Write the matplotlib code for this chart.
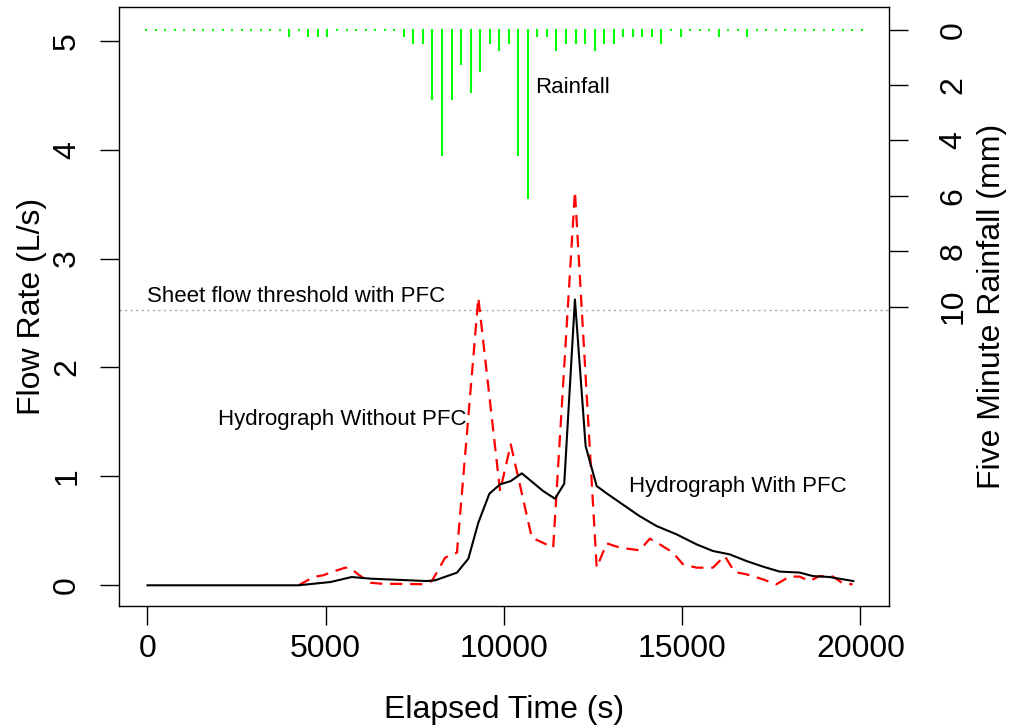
import matplotlib
matplotlib.use("Agg")
import matplotlib.pyplot as plt
import numpy as np

plt.rcParams['font.family'] = ['Liberation Sans', 'DejaVu Sans']

# hydrograph with PFC (black, solid)
t_pfc = [0, 4230, 5130, 5730, 6250, 7830, 8070, 8680, 9000, 9280, 9590, 9890,
         10190, 10500, 11100, 11430, 11690, 11990, 12290, 12600, 12920, 13530,
         13800, 14280, 14840, 15400, 15860, 16330, 16800, 17260, 17730, 18290,
         18660, 19130, 19800]
q_pfc = [0, 0, 0.03, 0.076, 0.061, 0.039, 0.046, 0.116, 0.244, 0.575, 0.841, 0.927,
         0.957, 1.028, 0.865, 0.795, 0.933, 2.624, 1.278, 0.911, 0.835, 0.697,
         0.636, 0.544, 0.468, 0.376, 0.315, 0.284, 0.223, 0.172, 0.126, 0.117,
         0.085, 0.076, 0.039]

# hydrograph without PFC (red, dashed)
t_nopfc = [4240, 4650, 4930, 5210, 5550, 5690, 5910, 6250, 6530, 7730, 7980, 8350,
           8680, 9280, 9890, 10190, 10780, 11380, 11990, 12600, 12880, 13250, 13810,
           14090, 14370, 14740, 15020, 15400, 15860, 16190, 16470, 16800, 17260,
           17640, 18010, 18290, 18570, 18850, 19230, 19500, 19780]
q_nopfc = [0, 0.076, 0.092, 0.126, 0.162, 0.159, 0.10, 0.024, 0.015, 0.01, 0.04, 0.254,
           0.30, 2.64, 0.865, 1.294, 0.438, 0.346, 3.617, 0.162, 0.385, 0.346, 0.321,
           0.428, 0.376, 0.30, 0.193, 0.162, 0.162, 0.269, 0.122, 0.101, 0.055,
           0.009, 0.080, 0.080, 0.039, 0.085, 0.080, 0.018, 0.009]

# five minute rainfall in mm (tipping bucket, 0.254 mm per tip)
rain_mm = [0, 0, 0, 0, 0, 0, 0, 0, 0, 0, 0, 0, 0, 0, 0,
           0.254, 0, 0.254, 0.254, 0.254, 0, 0, 0, 0, 0, 0, 0,
           0.254, 0.508, 0.508, 2.54, 4.572, 2.54, 1.27, 2.286, 1.524, 0.508,
           0.762, 0.508, 4.572, 6.096, 0.254, 0.254, 0.762, 0.508, 0.508, 0.508,
           0.762, 0.508, 0.508, 0.254, 0.254, 0.254, 0.254, 0.508, 0, 0.254,
           0, 0, 0, 0.254, 0, 0, 0.254, 0, 0, 0, 0, 0, 0, 0, 0, 0, 0, 0, 0]

threshold = 2.53

x_ticks = [0, 5000, 10000, 15000, 20000]
y_ticks = [0, 1, 2, 3, 4, 5]
rain_ticks = [0, 2, 4, 6, 8, 10]

fig = plt.figure(figsize=(10.1, 7.26), dpi=100)
rect = [0.1178, 0.1653, 0.7624, 0.8244]
ax = fig.add_axes(rect)

ax.plot(t_nopfc, q_nopfc, color='red', lw=1.6, dashes=(5.5, 3.5), zorder=2)
ax.plot(t_pfc, q_pfc, color='black', lw=1.5, zorder=3)
ax.axhline(threshold, color='#a8a8a8', lw=1, ls=(0, (1.5, 2.5)), zorder=1)

ax.set_xlim(-800, 20800)
ax.set_ylim(-0.19, 5.305)
ax.set_xticks(x_ticks)
ax.set_xticklabels([str(v) for v in x_ticks])
ax.set_yticks(y_ticks)
ax.set_yticklabels([str(v) for v in y_ticks], rotation=90, va='center')
ax.tick_params(direction='out', length=13.5, width=1, labelsize=23, pad=7)
ax.tick_params(axis='y', pad=13)
ax.set_xlabel('Elapsed Time (s)', fontsize=23, labelpad=22)
ax.set_ylabel('Flow Rate (L/s)', fontsize=23, labelpad=4)
for s in ax.spines.values():
    s.set_linewidth(1)

ax.text(10868, 4.57, 'Rainfall', fontsize=16, ha='left', va='center')
ax.text(0, 2.65, 'Sheet flow threshold with PFC', fontsize=16, ha='left', va='center')
ax.text(5462, 1.52, 'Hydrograph Without PFC', fontsize=16, ha='center', va='center')
ax.text(16555, 0.91, 'Hydrograph With PFC', fontsize=16, ha='center', va='center')

# rainfall on an inverted right-hand axis, plotted against its own index
ax2 = fig.add_axes(rect, frameon=False)
idx = np.arange(len(rain_mm))
ax2.vlines(idx, 0, rain_mm, color='#00ff00', lw=1.5)
ax2.plot(idx, np.zeros(len(rain_mm)), ls='none', marker='s', ms=1.8,
         mew=0, color='#00ff00')
ax2.set_xlim(-2.85, 77.85)
ax2.set_ylim(20.8, -0.8)
ax2.xaxis.set_visible(False)
ax2.yaxis.tick_right()
ax2.yaxis.set_label_position('right')
ax2.set_yticks(rain_ticks)
ax2.set_yticklabels([str(v) for v in rain_ticks], rotation=90, va='center')
ax2.tick_params(direction='out', length=13.5, width=1, labelsize=23, pad=22)
ax2.set_ylabel('Five Minute Rainfall (mm)', fontsize=23, labelpad=6)

fig.savefig('out.png', dpi=100)
